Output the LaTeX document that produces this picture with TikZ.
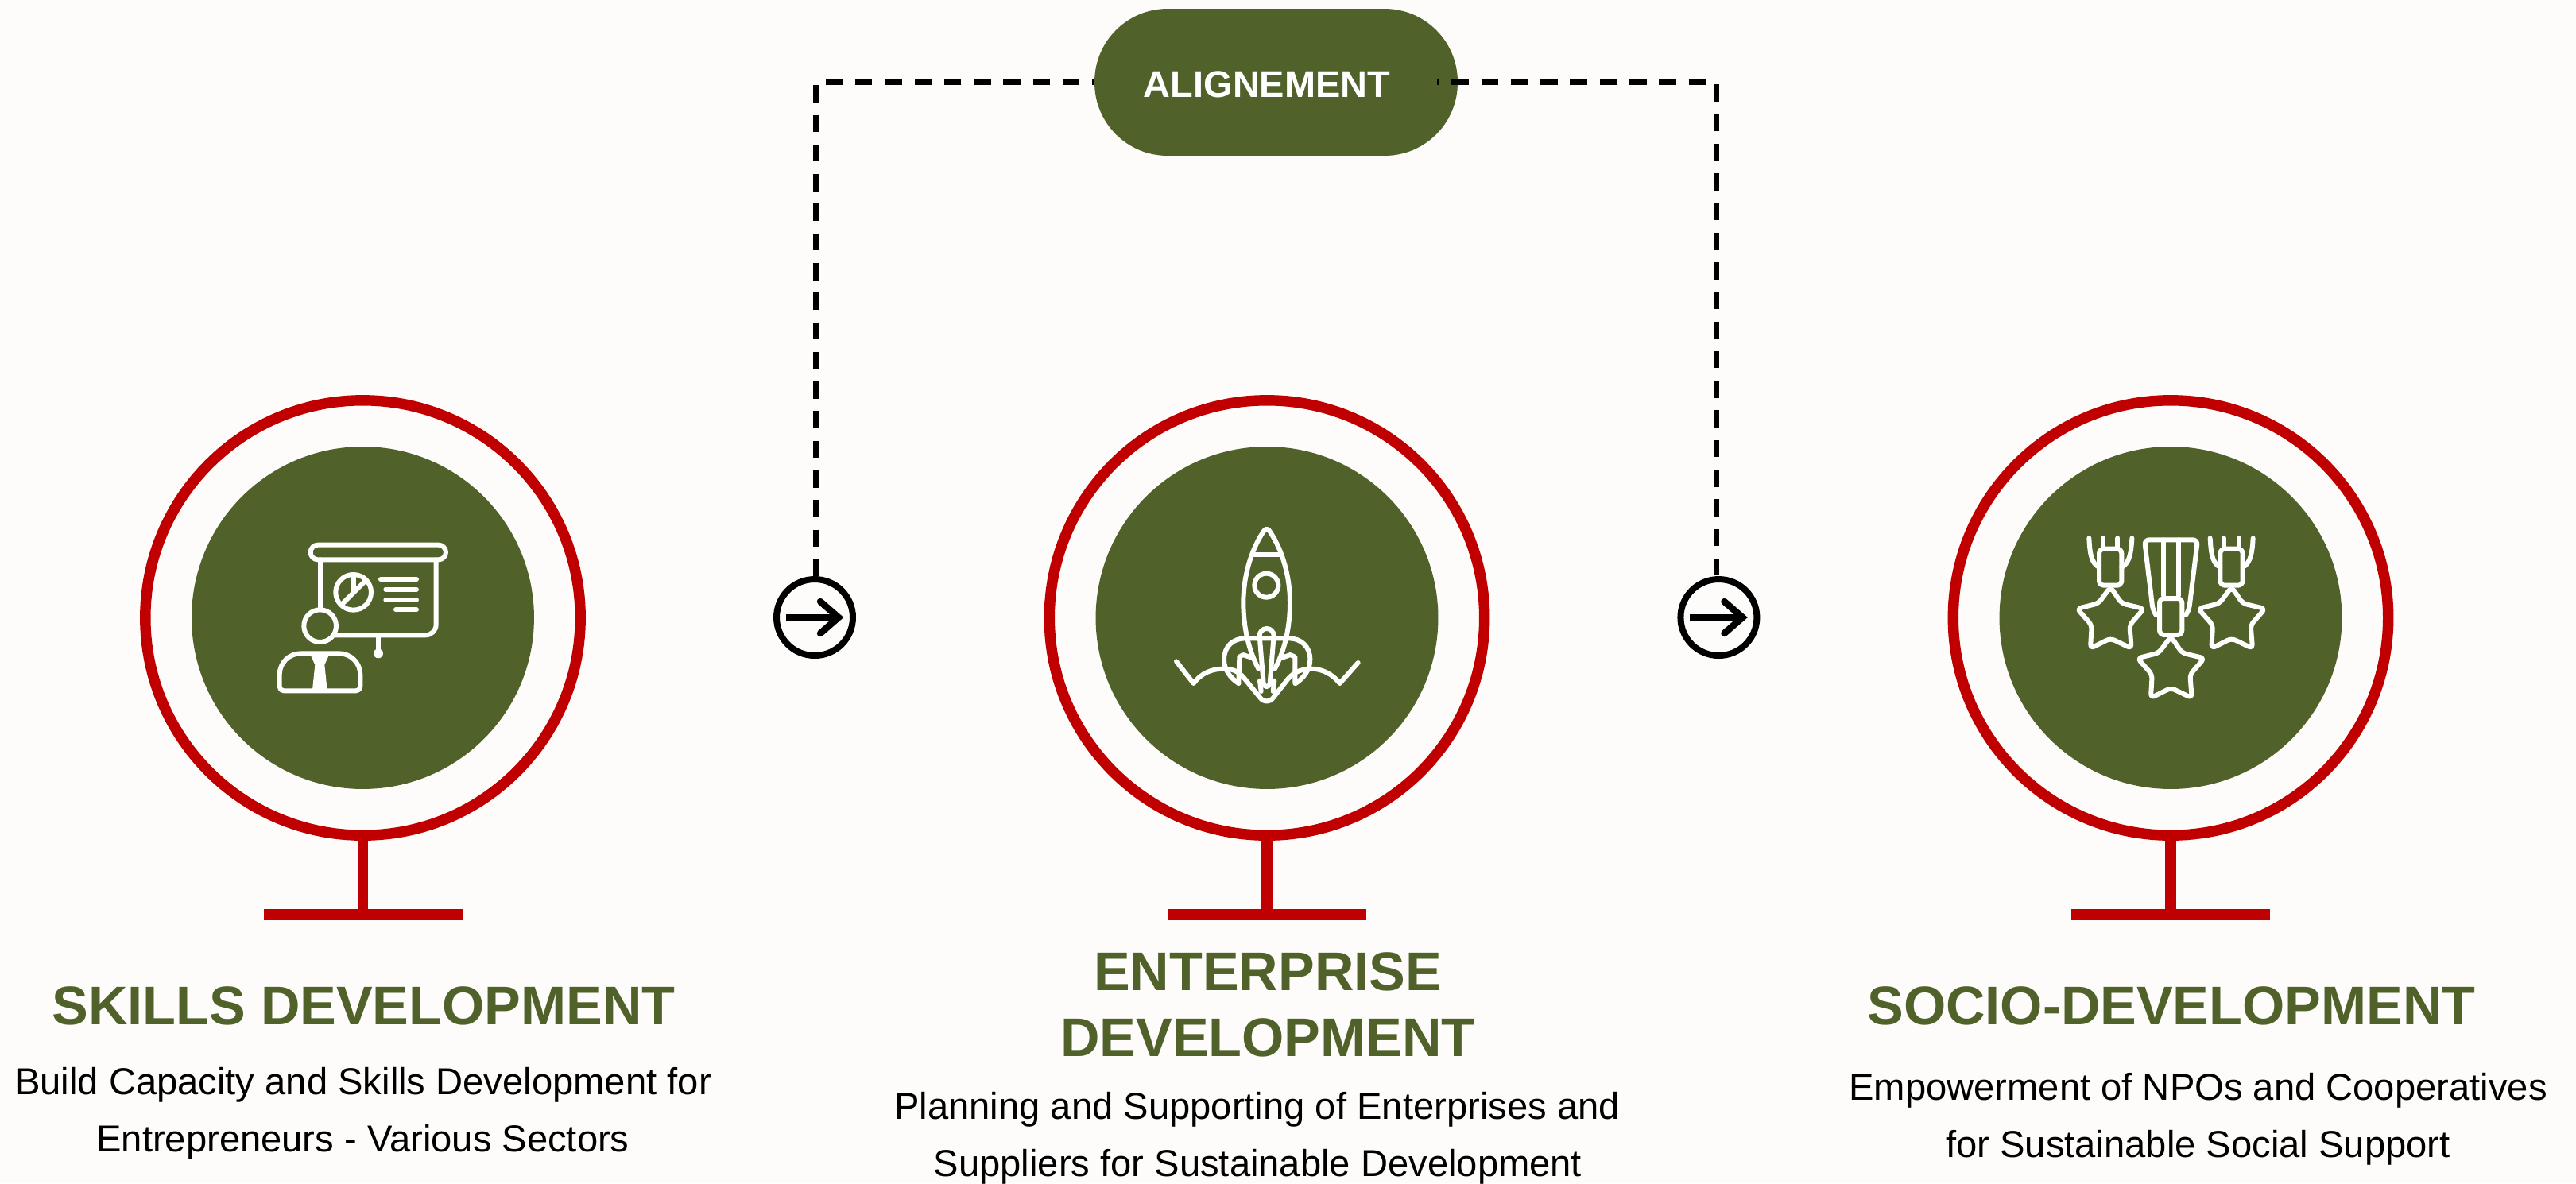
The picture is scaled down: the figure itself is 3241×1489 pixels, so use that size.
\documentclass[tikz,border=0pt]{standalone}
\usepackage{fontspec}
\setmainfont{Liberation Sans}
\definecolor{bgc}{HTML}{FDFCFA}
\definecolor{olivec}{HTML}{50622A}
\definecolor{redc}{HTML}{C00000}
\tikzset{
  ring/.style={circle,draw=redc,line width=7.65pt,minimum size=10.95cm,inner sep=0pt},
  disc/.style={circle,fill=olivec,minimum size=8.62cm,inner sep=0pt},
  stembar/.style={draw=redc,line width=7.5pt},
  pill/.style={fill=olivec,rounded corners=1.84cm,minimum width=9.14cm,minimum height=3.7cm,inner sep=0pt},
  pilltext/.style={text=white,font=\bfseries\fontsize{26.7pt}{30pt}\selectfont,anchor=base},
  dashline/.style={draw=black,line width=3.97pt,dash pattern=on 12.23pt off 8.99pt,dash phase=10.8pt},
  arrowring/.style={circle,draw=black,line width=4.55pt,minimum size=1.92cm,inner sep=0pt},
  arrowline/.style={draw=black,line width=4.8pt,line cap=round,line join=miter},
  title/.style={text=olivec,font=\bfseries\fontsize{39pt}{44pt}\selectfont,anchor=base},
  body/.style={text=black,font=\fontsize{26.85pt}{30pt}\selectfont,anchor=base},
  iconline/.style={draw=white,line width=3.4pt,line cap=round,line join=round},
  iconscope/.style={x=0.006667cm,y=-0.006667cm}
}
\newcommand{\medal}{%
  \draw[iconline,rounded corners=3pt] (226,296) -- (268,358) -- (352,378) -- (298,440) -- (305,528) -- (226,490) -- (150,528) -- (155,440) -- (100,378) -- (180,358) -- cycle;
  \draw[iconline,fill=olivec,rounded corners=3.4pt] (183,152) rectangle (268,290);
}
\begin{document}
\begin{tikzpicture}[x=0.02cm,y=-0.02cm]
\useasboundingbox (0,0) rectangle (3241,1489);
\fill[bgc] (0,0) rectangle (3241,1489);

% rings
\foreach \n/\cx in {a/456.5,b/1594,c/2731}{
  \node[ring] (ring\n) at (\cx,777.5) {};
  \node[disc] (disc\n) at (\cx,777.5) {};
  \coordinate (foot\n) at (\cx,1151);
  \coordinate (footl\n) at (\cx-125,1151);
  \coordinate (footr\n) at (\cx+125,1151);
  \draw[stembar] (ring\n.south) -- (foot\n);
  \draw[stembar] (footl\n) -- (footr\n);
}

% alignment pill and connectors
\node[arrowring] (arrowl) at (1025,777) {};
\node[arrowring] (arrowr) at (2162.4,777) {};
\node[pill] (pill) at (1605.5,103.5) {};
\coordinate (rstart) at (1808,103.5);
\draw[dashline] (pill.west) -| ([xshift=0.034cm]arrowl.north);
\draw[dashline] (rstart) -| ([xshift=-0.068cm]arrowr.north);
\node[pilltext] (pilllabel) at (1594,122) {ALIGNEMENT};

% arrows in rings
\foreach \n in {arrowl,arrowr}{
  \draw[arrowline,line cap=butt] ([xshift=-0.72cm]\n.center) -- ([xshift=0.56cm]\n.center);
  \draw[arrowline] ([shift={(0.14cm,-0.4cm)}]\n.center) -- ([xshift=0.6cm]\n.center) -- ([shift={(0.14cm,0.4cm)}]\n.center);
}

% icon 1
\begin{scope}[shift={(300,640)},iconscope]
  \draw[iconline] (300,137) -- (755,137) arc (-90:90:28) -- (300,193) arc (90:270:28) -- cycle;
  \draw[iconline] (308,193) -- (308,382);
  \draw[iconline] (746,193) -- (746,438) arc (0:90:40) -- (365,478);
  \draw[iconline] (528,478) -- (528,547);
  \fill[white] (528,547) circle (18);
  \draw[iconline] (308,443) circle (61);
  \draw[iconline] (434,316) circle (67);
  \draw[iconline] (390,362) -- (478,274);
  \draw[iconline,line cap=butt] (434,250) -- (434,318);
  \draw[iconline] (537,268) -- (672,268);
  \draw[iconline] (556,305) -- (672,305);
  \draw[iconline] (556,344) -- (672,344);
  \draw[iconline] (594,382) -- (672,382);
  \draw[iconline] (155,672) -- (155,627) arc (180:270:80) -- (380,547) arc (270:360:80) -- (460,672) arc (0:90:16) -- (171,688) arc (90:180:16) -- cycle;
  \fill[white] (272,553) -- (342,553) -- (325,590) -- (335,685) -- (279,685) -- (289,590) -- cycle;
\end{scope}

% icon 2
\begin{scope}[shift={(1420,630)},iconscope]
  \draw[iconline] (508,118) .. controls (515,104) and (527,104) .. (534,118)
     .. controls (582,190) and (609,290) .. (609,385) .. controls (609,470) and (592,560) .. (552,635);
  \draw[iconline] (508,118) .. controls (460,190) and (433,290) .. (433,385) .. controls (433,470) and (450,560) .. (490,635);
  \draw[iconline,line cap=butt] (470,204) -- (572,204);
  \draw[iconline] (520,320) circle (45);
  \draw[iconline] (509,690) -- (494,510) arc (180:360:27) -- (533,690) arc (0:180:12);
  \draw[iconline] (415,690) .. controls (385,670) and (360,640) .. (360,600) .. controls (360,550) and (395,520) .. (440,520) -- (605,520) .. controls (650,520) and (685,550) .. (685,600) .. controls (685,640) and (660,670) .. (630,690);
  \draw[iconline] (415,690) -- (418,590) -- (432,582) -- (470,595);
  \draw[iconline] (628,690) -- (628,590) -- (610,582) -- (575,595);
  \draw[iconline] (180,607) -- (245,690) .. controls (275,650) and (315,635) .. (360,635) .. controls (400,635) and (420,650) .. (440,675) -- (497,745) .. controls (510,762) and (532,762) .. (545,745) -- (600,675) .. controls (620,650) and (650,635) .. (690,635) .. controls (730,635) and (770,655) .. (797,690) -- (866,612);
  \draw[iconline] (495,680) -- (500,720);
  \draw[iconline] (550,680) -- (545,720);
\end{scope}

% icon 3
\begin{scope}[shift={(2580,640)},iconscope]
  \foreach \dx/\dy in {0/0,457/0,228/187}{
    \begin{scope}[shift={(\dx,\dy)}]
      \medal
    \end{scope}
  }
  \foreach \dx in {0,457}{
    \begin{scope}[shift={(\dx,0)}]
      \draw[iconline] (145,112) .. controls (148,160) and (150,205) .. (183,222);
      \draw[iconline] (307,112) .. controls (304,160) and (300,205) .. (268,222);
      \draw[iconline] (197,112) -- (197,152);
      \draw[iconline] (253,112) -- (253,152);
    \end{scope}
  }
  \draw[iconline,rounded corners=3.5pt] (398,402) -- (386,385) -- (354,118) -- (555,118) -- (522,385) -- (510,402);
  \draw[iconline] (427,118) -- (427,328);
  \draw[iconline] (482,118) -- (482,328);
\end{scope}

% texts
\node[title] (t1) at (457.5,1289) {SKILLS DEVELOPMENT};
\node[body] (d1a) at (457,1377) {Build Capacity and Skills Development for};
\node[body] (d1b) at (456.5,1449) {Entrepreneurs - Various Sectors};

\node[title] (t2a) at (1595,1246) {ENTERPRISE};
\node[title] (t2b) at (1595,1329) {DEVELOPMENT};
\node[body] (d2a) at (1581.6,1408) {Planning and Supporting of Enterprises and};
\node[body] (d2b) at (1582.5,1480) {Suppliers for Sustainable Development};

\node[title] (t3) at (2732,1289) {SOCIO-DEVELOPMENT};
\node[body] (d3a) at (2765.5,1384) {Empowerment of NPOs and Cooperatives};
\node[body] (d3b) at (2765.5,1456) {for Sustainable Social Support};
\end{tikzpicture}
\end{document}
